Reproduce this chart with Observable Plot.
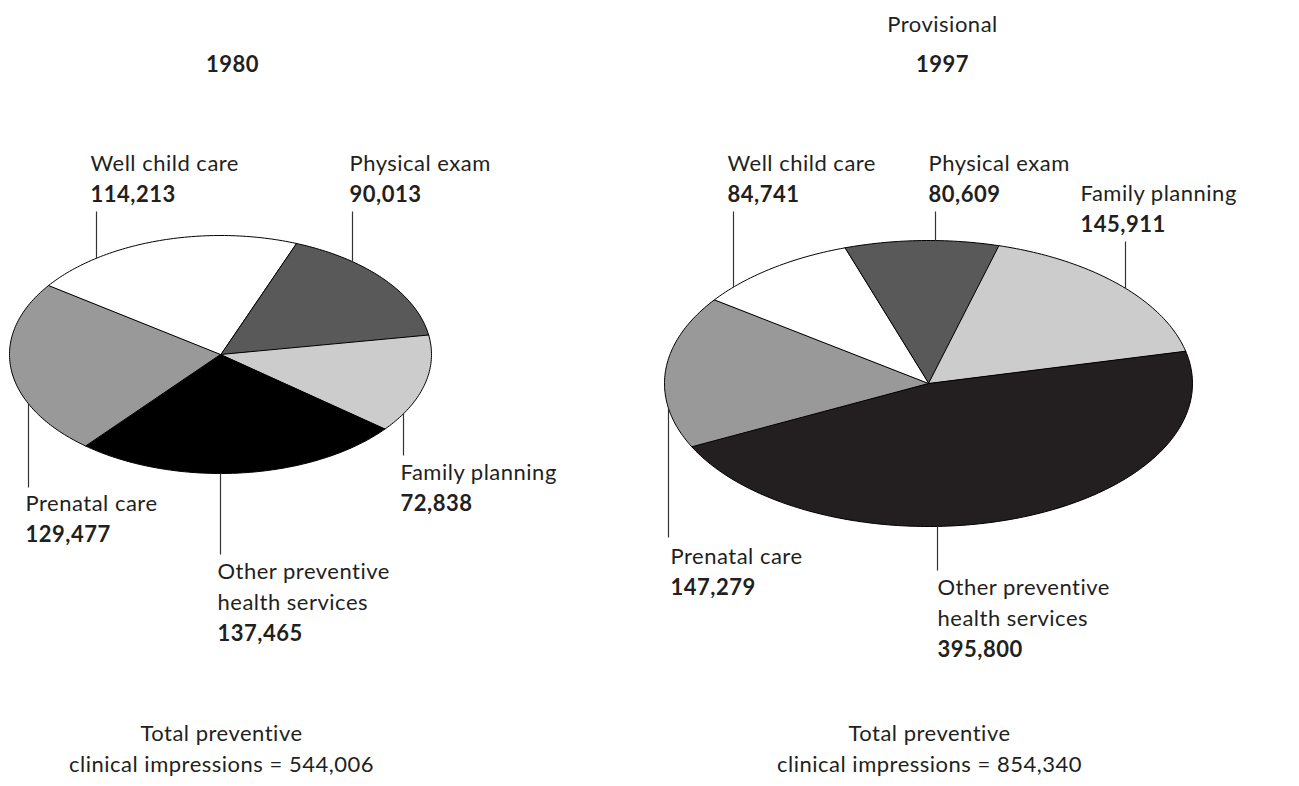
<!DOCTYPE html>
<html><head><meta charset="utf-8">
<script src="https://cdn.jsdelivr.net/npm/d3@7"></script>
<script src="https://cdn.jsdelivr.net/npm/@observablehq/plot@0.6"></script>
<style>
body{margin:0;background:#fff}
#chart svg{display:block}
#chart svg text{font-variant-ligatures:none;font-feature-settings:"liga" 0;letter-spacing:0.5px}
</style>
</head><body><div id="chart"></div><script>
// ---- data ----
const categories = ["Physical exam","Family planning","Other preventive health services","Prenatal care","Well child care"];
const categoryLines = [["Physical exam"],["Family planning"],["Other preventive","health services"],["Prenatal care"],["Well child care"]];
const years = ["1980","1997"];
const subtitles = ["","Provisional"];
const values1980 = [90013,72838,137465,129477,114213];
const values1997 = [80609,145911,395800,147279,84741];
const totals = [544006,854340];

// ---- layout ----
const W = 1299, H = 786, LINE = 31;
const pieLayout = [
  {cx:220, cy:354, rx:211, ry:119, start:21, colors:["#595959","#cccccc","#000000","#999999","#ffffff"], titleX:232, totalX:221},
  {cx:928, cy:383, rx:264, ry:143, start:-18.5, colors:["#595959","#cccccc","#231f20","#999999","#ffffff"], titleX:942, totalX:929}
];
// per pie, per category: leader x, leader far end y, text x, first text line center y, side
const labelLayout = [
  [
    {lx:352, ly:211, tx:349, ty:163, side:"top"},
    {lx:403, ly:455, tx:400, ty:472, side:"bottom"},
    {lx:220, ly:554, tx:217, ty:571, side:"bottom"},
    {lx:28,  ly:487, tx:25,  ty:503, side:"bottom"},
    {lx:96,  ly:211, tx:90,  ty:163, side:"top"}
  ],
  [
    {lx:935,  ly:211, tx:928,  ty:163, side:"top"},
    {lx:1125, ly:241, tx:1080, ty:193, side:"top"},
    {lx:937,  ly:570, tx:937,  ty:587, side:"bottom"},
    {lx:668,  ly:537, tx:670,  ty:556, side:"bottom"},
    {lx:733,  ly:211, tx:727,  ty:163, side:"top"}
  ]
];
const seriesValues = [values1980, values1997];
const fmt = d3.format(",");

// ---- build slice polygons from the values ----
const slices = [];
const leaders = [];
const nameLines = [];
const numberLines = [];
seriesValues.forEach((vals, i) => {
  const p = pieLayout[i];
  const total = d3.sum(vals);
  let acc = 0;
  vals.forEach((v, j) => {
    const a0 = p.start + acc / total * 360;
    acc += v;
    const a1 = p.start + acc / total * 360;
    const key = i + "-" + j, color = p.colors[j];
    slices.push({key, x:p.cx, y:p.cy, color});
    const n = Math.max(2, Math.ceil(a1 - a0));
    for (let k = 0; k <= n; k++) {
      const a = (a0 + (a1 - a0) * k / n) * Math.PI / 180;
      slices.push({key, x:p.cx + p.rx * Math.sin(a), y:p.cy - p.ry * Math.cos(a), color});
    }
    // labels
    const L = labelLayout[i][j];
    const u = (L.lx - p.cx) / p.rx;
    const h = p.ry * Math.sqrt(Math.max(0, 1 - u * u));
    leaders.push({x1:L.lx, x2:L.lx, y1: L.side === "top" ? p.cy - h : p.cy + h, y2:L.ly});
    const lines = categoryLines[j];
    lines.forEach((t, k) => nameLines.push({x:L.tx, y:L.ty + k * LINE, text:t}));
    numberLines.push({x:L.tx, y:L.ty + lines.length * LINE, text:fmt(v)});
  });
});
const titles = years.map((y, i) => ({x:pieLayout[i].titleX, y:64, text:y}));
const subs = subtitles.map((s, i) => ({x:pieLayout[i].titleX, y:24, text:s})).filter(d => d.text);
const totalLines = totals.flatMap((t, i) => [
  {x:pieLayout[i].totalX, y:733, text:"Total preventive"},
  {x:pieLayout[i].totalX, y:764, text:"clinical impressions = " + fmt(t)}
]);

const FONT = "Lato, 'Open Sans', sans-serif";
const ink = "#231f20";
const chart = Plot.plot({
  width: W, height: H,
  margin: 0,
  x: {domain:[0, W], range:[0, W], axis:null},
  y: {domain:[0, H], range:[0, H], axis:null},
  color: {type:"identity"},
  style: {fontFamily: FONT, background:"#fff"},
  marks: [
    Plot.line(slices, {x:"x", y:"y", z:"key", fill:"color", stroke:"#000", strokeWidth:1, curve:"linear-closed", strokeLinejoin:"miter"}),
    Plot.link(leaders, {x1:"x1", y1:"y1", x2:"x2", y2:"y2", stroke:"#333", strokeWidth:1.2}),
    Plot.text(nameLines, {x:"x", y:"y", text:"text", textAnchor:"start", lineAnchor:"middle", fontSize:22, fill:ink}),
    Plot.text(numberLines, {x:"x", y:"y", text:"text", textAnchor:"start", lineAnchor:"middle", fontSize:22, fontWeight:"bold", fill:ink}),
    Plot.text(titles, {x:"x", y:"y", text:"text", textAnchor:"middle", lineAnchor:"middle", fontSize:22, fontWeight:"bold", fill:ink}),
    Plot.text(subs, {x:"x", y:"y", text:"text", textAnchor:"middle", lineAnchor:"middle", fontSize:22, fill:ink}),
    Plot.text(totalLines, {x:"x", y:"y", text:"text", textAnchor:"middle", lineAnchor:"middle", fontSize:22, fill:ink})
  ]
});
document.getElementById("chart").appendChild(chart);
</script></body></html>
